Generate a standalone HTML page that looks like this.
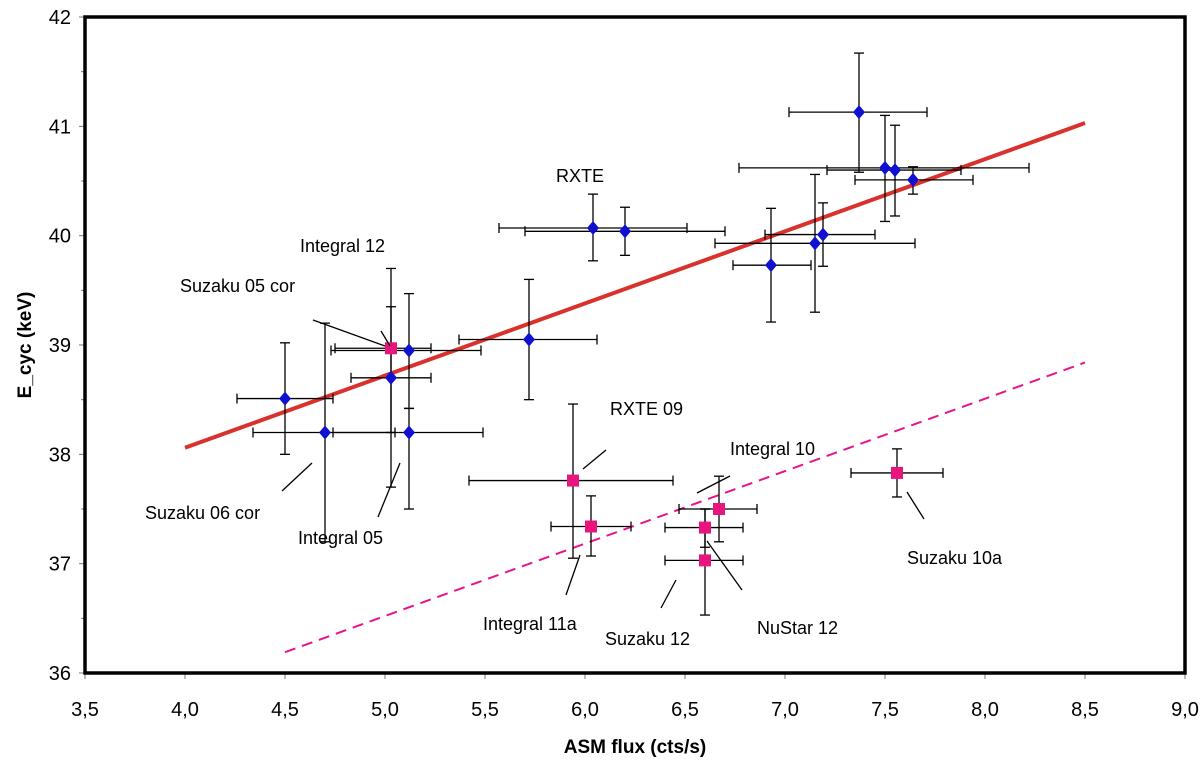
<!DOCTYPE html>
<html><head><meta charset="utf-8"><style>
body{margin:0;background:#fff}
svg{display:block;font-family:"Liberation Sans",Arial,sans-serif}
</style></head><body>
<svg id="chart" width="1200" height="762">
<g id="grid"></g><g id="marks"></g><g id="ann"></g>
</svg>
<script>
const blueX=[4.5,4.70,5.03,5.12,5.12,5.72,6.04,6.20,6.93,7.15,7.19,7.37,7.50,7.55,7.64];
const blueY=[38.51,38.2,38.7,38.95,38.2,39.05,40.07,40.04,39.73,39.93,40.01,41.13,40.62,40.6,40.51];
const blueXlo=[4.26,4.34,4.83,4.73,4.74,5.37,5.57,5.70,6.74,6.65,6.90,7.02,6.77,7.21,7.35];
const blueXhi=[4.74,5.05,5.23,5.48,5.49,6.06,6.51,6.70,7.13,7.65,7.45,7.71,8.22,7.88,7.94];
const blueYlo=[38.0,37.2,37.7,38.42,37.5,38.5,39.77,39.82,39.21,39.3,39.72,40.58,40.13,40.18,40.38];
const blueYhi=[39.02,39.2,39.35,39.47,38.42,39.6,40.38,40.26,40.25,40.56,40.3,41.67,41.1,41.01,40.63];
const pinkX=[5.03,5.94,6.03,6.60,6.60,6.67,7.56];
const pinkY=[38.97,37.76,37.34,37.33,37.03,37.5,37.83];
const pinkXlo=[4.75,5.42,5.83,6.40,6.40,6.47,7.33];
const pinkXhi=[5.23,6.44,6.23,6.79,6.79,6.86,7.79];
const pinkYlo=[38.2,37.05,37.07,37.15,36.53,37.2,37.61];
const pinkYhi=[39.7,38.46,37.62,37.5,37.5,37.8,38.05];
const fitSolid=[[4.0,38.06],[8.5,41.03]];
const fitDashed=[[4.5,36.19],[8.5,38.84]];
const xTicks=[3.5,4.0,4.5,5.0,5.5,6.0,6.5,7.0,7.5,8.0,8.5,9.0];
const yTicks=[36,37,38,39,40,41,42];

const X0=85,X1=1185,Y0=673,Y1=17;
const sx=v=>X0+(v-3.5)/(9-3.5)*(X1-X0);
const sy=v=>Y0-(v-36)/(42-36)*(Y0-Y1);
const NS='http://www.w3.org/2000/svg';
function mk(tag,attrs,parent,text){const e=document.createElementNS(NS,tag);for(const k in attrs)e.setAttribute(k,attrs[k]);if(text!==undefined)e.textContent=text;parent.appendChild(e);return e;}
const grid=document.getElementById('grid'),marks=document.getElementById('marks'),ann=document.getElementById('ann');

xTicks.forEach(t=>{
  mk('line',{x1:sx(t),x2:sx(t),y1:Y0,y2:Y0+6,stroke:'#777','stroke-width':1},grid);
  const tx=mk('text',{x:sx(t),y:Y0+43,'text-anchor':'middle','font-size':20},grid,t.toFixed(1).replace('.',','));
  
  
});
yTicks.forEach(t=>{
  mk('line',{x1:X0-6,x2:X0,y1:sy(t),y2:sy(t),stroke:'#777','stroke-width':1},grid);
  if(t<42) mk('line',{x1:X0-4,x2:X0,y1:sy(t+0.5),y2:sy(t+0.5),stroke:'#777','stroke-width':1},grid);
  const tx=mk('text',{x:X0-14,y:sy(t)+7,'text-anchor':'end','font-size':20},grid,String(t));
  
  
});
const fr=mk('rect',{x:X0,y:Y1,width:X1-X0,height:Y0-Y1,fill:'none',stroke:'#000','stroke-width':3.5},grid);


const xt=mk('text',{x:635,y:753,'text-anchor':'middle','font-size':19,'font-weight':'bold','xml:space':'preserve'},grid,'ASM flux  (cts/s)');


const yt=mk('text',{x:0,y:0,'text-anchor':'middle','font-size':19,'font-weight':'bold',transform:'translate(31,345) rotate(-90)'},grid,'E_cyc (keV)');



const l1=mk('line',{x1:sx(fitSolid[0][0]),y1:sy(fitSolid[0][1]),x2:sx(fitSolid[1][0]),y2:sy(fitSolid[1][1]),stroke:'#d9312b','stroke-width':4},marks);


const l2=mk('line',{x1:sx(fitDashed[0][0]),y1:sy(fitDashed[0][1]),x2:sx(fitDashed[1][0]),y2:sy(fitDashed[1][1]),stroke:'#e8158a','stroke-width':2,'stroke-dasharray':'11,7'},marks);



function errbar(x,y,xl,xh,yl,yh){
  const g=mk('g',{stroke:'#000','stroke-width':1.3},marks);
  
  
  mk('line',{x1:sx(xl),x2:sx(xh),y1:sy(y),y2:sy(y)},g);
  mk('line',{x1:sx(xl),x2:sx(xl),y1:sy(y)-5,y2:sy(y)+5},g);
  mk('line',{x1:sx(xh),x2:sx(xh),y1:sy(y)-5,y2:sy(y)+5},g);
  mk('line',{x1:sx(x),x2:sx(x),y1:sy(yl),y2:sy(yh)},g);
  mk('line',{x1:sx(x)-5,x2:sx(x)+5,y1:sy(yl),y2:sy(yl)},g);
  mk('line',{x1:sx(x)-5,x2:sx(x)+5,y1:sy(yh),y2:sy(yh)},g);
}
blueX.forEach((v,i)=>errbar(v,blueY[i],blueXlo[i],blueXhi[i],blueYlo[i],blueYhi[i]));
pinkX.forEach((v,i)=>errbar(v,pinkY[i],pinkXlo[i],pinkXhi[i],pinkYlo[i],pinkYhi[i]));
blueX.forEach((v,i)=>{
  const cx=sx(v),cy=sy(blueY[i]);
  const p=mk('polygon',{points:`${cx},${cy-7} ${cx+6},${cy} ${cx},${cy+7} ${cx-6},${cy}`,fill:'#1010d0'},marks);
  
  
});
pinkX.forEach((v,i)=>{
  const cx=sx(v),cy=sy(pinkY[i]);
  const r=mk('rect',{x:cx-6,y:cy-6,width:12,height:12,fill:'#e8157f'},marks);
  
  
});

const labels=[
 ['RXTE',556,182,null],
 ['Integral 12',300,252,[381,331,390,346]],
 ['Suzaku 05 cor',180,292,[313,320,385,346]],
 ['Suzaku 06 cor',145,519,[282,491,312,463]],
 ['Integral 05',298,544,[378,517,400,463]],
 ['RXTE 09',610,415,[583,469,606,450]],
 ['Integral 10',730,455,[697,493,730,476]],
 ['Integral  11a',483,630,[566,595,580,555]],
 ['Suzaku 12',605,645,[661,608,676,580]],
 ['NuStar 12',757,634,[707,541,742,590]],
 ['Suzaku 10a',907,564,[907,492,924,519]]
];
labels.forEach(l=>{
  const t=mk('text',{x:l[1],y:l[2],'font-size':18,'xml:space':'preserve'},ann,l[0]);
  
  
  if(l[3]){const s=l[3];
    const ln=mk('line',{x1:s[0],y1:s[1],x2:s[2],y2:s[3],stroke:'#000','stroke-width':1.3},ann);
    
    
  }
});
</script>
</body></html>
